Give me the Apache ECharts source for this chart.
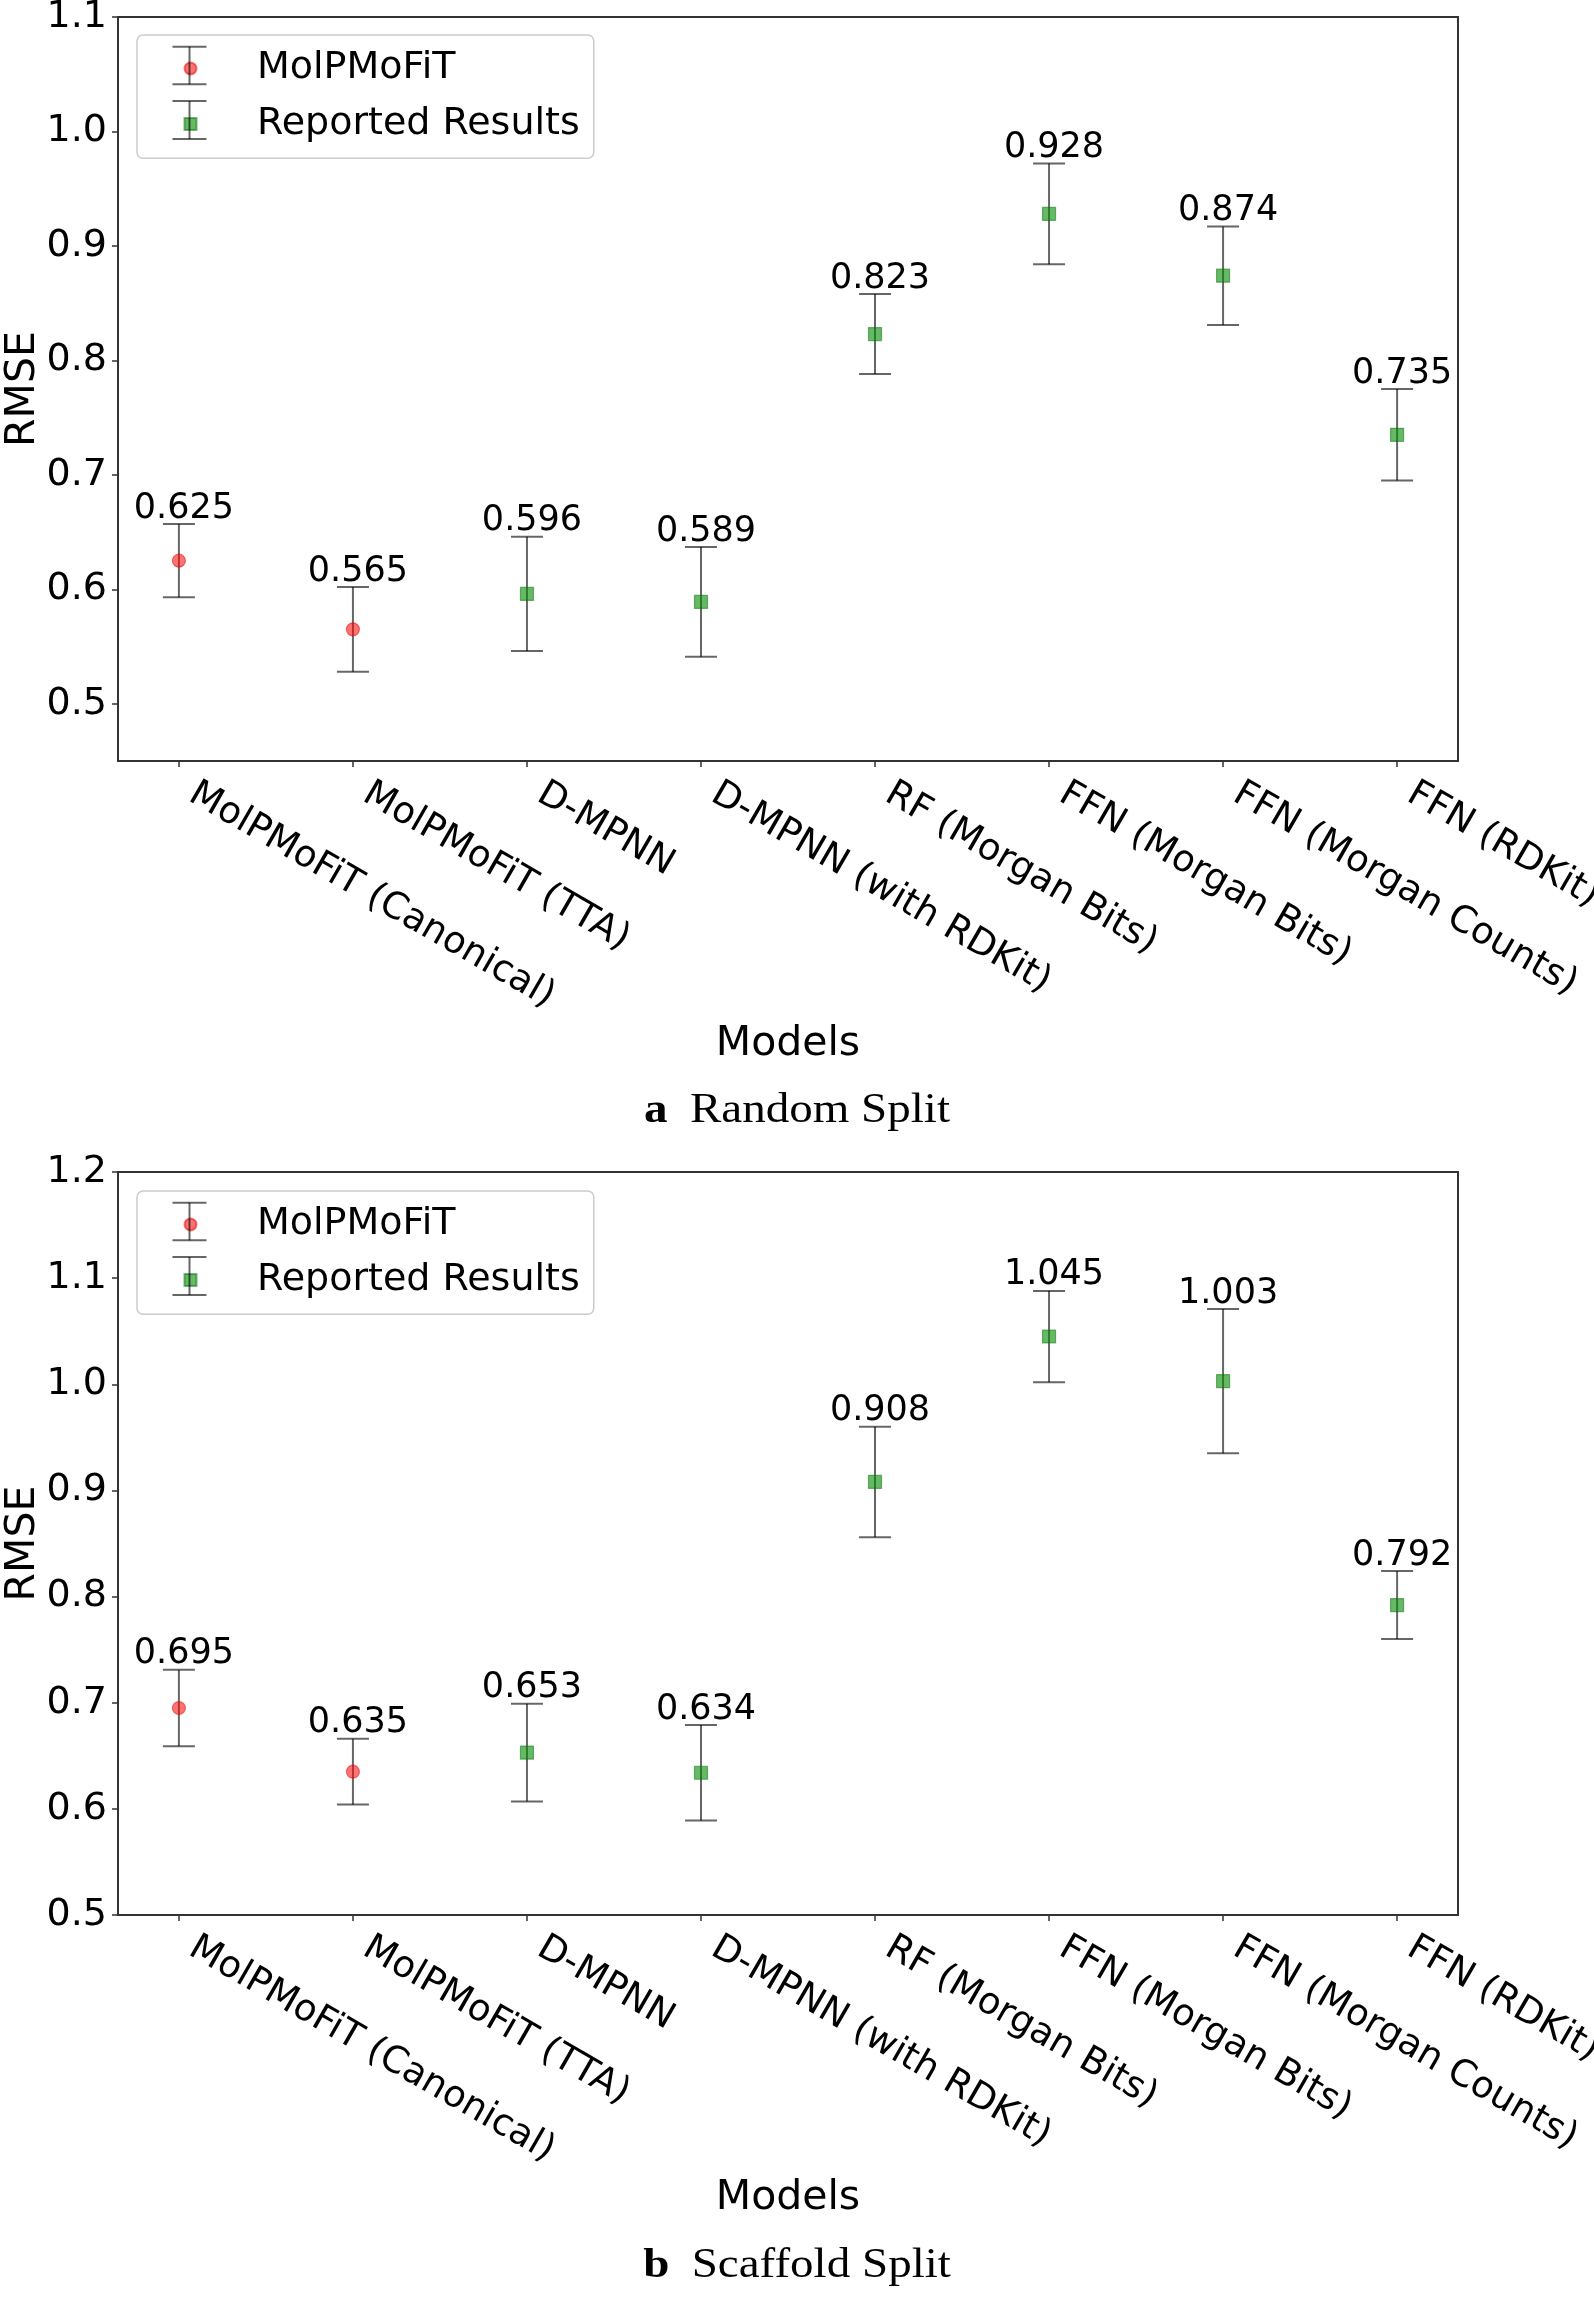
<!DOCTYPE html>
<html>
<head>
<meta charset="utf-8">
<script src="https://cdn.jsdelivr.net/npm/echarts@6/dist/echarts.min.js"></script>
<style>
html,body{margin:0;padding:0;background:#ffffff;}
#chart{width:1594px;height:2300px;}
</style>
</head>
<body>
<div id="chart"></div>
<script>
// ---------------- data ----------------
const categories = [
  'MolPMoFiT (Canonical)', 'MolPMoFiT (TTA)', 'D-MPNN', 'D-MPNN (with RDKit)',
  'RF (Morgan Bits)', 'FFN (Morgan Bits)', 'FFN (Morgan Counts)', 'FFN (RDKit)'
];
const seriesNames = ['MolPMoFiT', 'Reported Results'];
const categoryGroup = ['MolPMoFiT', 'MolPMoFiT', 'Reported Results', 'Reported Results',
  'Reported Results', 'Reported Results', 'Reported Results', 'Reported Results'];

const randomRMSE = [0.625, 0.565, 0.596, 0.589, 0.823, 0.928, 0.874, 0.735];
const randomErr  = [0.032, 0.037, 0.050, 0.048, 0.035, 0.044, 0.043, 0.040];
const scaffoldRMSE = [0.695, 0.635, 0.653, 0.634, 0.908, 1.045, 1.003, 0.792];
const scaffoldErr  = [0.036, 0.031, 0.046, 0.045, 0.052, 0.043, 0.068, 0.032];

const randomYTicks = [0.5, 0.6, 0.7, 0.8, 0.9, 1.0, 1.1];
const scaffoldYTicks = [0.5, 0.6, 0.7, 0.8, 0.9, 1.0, 1.1, 1.2];
const randomYRange = [0.45, 1.1];
const scaffoldYRange = [0.5, 1.2];

const captions = [['a', 'Random Split'], ['b', 'Scaffold Split']];
const xAxisTitle = 'Models';
const yAxisTitle = 'RMSE';

// ---------------- styles ----------------
const FONT = 'DejaVu Sans';
const SERIF = 'Liberation Serif';
const AXIS_COLOR = '#333333';
const ERR_COLOR = 'rgba(0,0,0,0.6)';
const MARKER_STYLE = {
  'MolPMoFiT': { symbol: 'circle', color: 'rgba(255,0,0,0.55)', border: 'rgba(230,0,0,0.5)' },
  'Reported Results': { symbol: 'rect', color: 'rgba(0,140,0,0.6)', border: 'rgba(0,110,0,0.5)' }
};

const panels = [
  { rmse: randomRMSE, err: randomErr, ticks: randomYTicks, range: randomYRange,
    top: 17, height: 744, legendTop: 35, caption: captions[0], captionY: 1111 },
  { rmse: scaffoldRMSE, err: scaffoldErr, ticks: scaffoldYTicks, range: scaffoldYRange,
    top: 1172, height: 743, legendTop: 1191, caption: captions[1], captionY: 2266 }
];

const xIdx = categories.map((_, i) => i);

function errRender(params, api) {
  const x = api.value(0), y = api.value(1), e = api.value(2);
  const pt = api.coord([x, y + e]);
  const pb = api.coord([x, y - e]);
  const hw = 16;
  const st = { stroke: ERR_COLOR, lineWidth: 2 };
  return {
    type: 'group',
    children: [
      { type: 'line', shape: { x1: pt[0], y1: pt[1], x2: pb[0], y2: pb[1] }, style: st },
      { type: 'line', shape: { x1: pt[0] - hw, y1: pt[1], x2: pt[0] + hw, y2: pt[1] }, style: st },
      { type: 'line', shape: { x1: pb[0] - hw, y1: pb[1], x2: pb[0] + hw, y2: pb[1] }, style: st },
      { type: 'text', x: pt[0] + 5, y: pt[1] + 2,
        style: { text: y.toFixed(3), fontSize: 35, fontFamily: FONT, fill: '#000',
                 align: 'center', verticalAlign: 'bottom' } }
    ]
  };
}

const grids = [], xAxes = [], yAxes = [], series = [], legends = [], graphics = [];

panels.forEach((p, k) => {
  grids.push({
    left: 118, top: p.top, width: 1340, height: p.height,
    show: true, borderColor: AXIS_COLOR, borderWidth: 2, backgroundColor: 'transparent',
    containLabel: false, outerBoundsMode: 'none'
  });
  xAxes.push({
    gridIndex: k, type: 'value', min: -0.35, max: 7.35,
    splitLine: { show: false },
    axisLine: { show: true, onZero: false, lineStyle: { color: AXIS_COLOR, width: 2 } },
    axisTick: { show: true, customValues: xIdx, length: 6, lineStyle: { color: AXIS_COLOR, width: 1.5 } },
    axisLabel: {
      customValues: xIdx, formatter: v => categories[Math.round(v)],
      rotate: -30, fontSize: 37, fontFamily: FONT, color: '#000',
      margin: 23, padding: [0, 0, 0, 15], hideOverlap: false
    },
    name: xAxisTitle, nameLocation: 'middle', nameGap: 263, nameMoveOverlap: false,
    nameTextStyle: { fontSize: 41, fontFamily: FONT, color: '#000' }
  });
  yAxes.push({
    gridIndex: k, type: 'value', min: p.range[0], max: p.range[1],
    splitLine: { show: false },
    axisLine: { show: true, onZero: false, lineStyle: { color: AXIS_COLOR, width: 2 } },
    axisTick: { show: true, customValues: p.ticks, length: 6, lineStyle: { color: AXIS_COLOR, width: 1.5 } },
    axisLabel: {
      customValues: p.ticks, formatter: v => v.toFixed(1),
      fontSize: 38, fontFamily: FONT, color: '#000', margin: 11
    },
    name: yAxisTitle, nameLocation: 'middle', nameRotate: 90, nameGap: 74, nameMoveOverlap: false,
    nameTextStyle: { fontSize: 41, fontFamily: FONT, color: '#000' }
  });

  series.push({
    name: 'err' + k, type: 'custom', xAxisIndex: k, yAxisIndex: k, z: 2,
    renderItem: errRender, encode: { x: 0, y: 1 },
    data: categories.map((_, i) => [i, p.rmse[i], p.err[i]])
  });
  seriesNames.forEach(name => {
    const ms = MARKER_STYLE[name];
    series.push({
      name: name, type: 'scatter', xAxisIndex: k, yAxisIndex: k, z: 3,
      symbol: ms.symbol, symbolSize: 13,
      itemStyle: { color: ms.color, borderColor: ms.border, borderWidth: 1.2, opacity: 1 },
      data: categories.map((_, i) => i).filter(i => categoryGroup[i] === name).map(i => [i, p.rmse[i]])
    });
  });

  legends.push({
    left: 137, top: p.legendTop, orient: 'vertical',
    data: seriesNames.map(n => ({ name: n, icon: MARKER_STYLE[n].symbol })),
    itemWidth: 12, itemHeight: 12, itemGap: 17.5,
    padding: [14.5, 14, 15.3, 46.5],
    backgroundColor: 'rgba(255,255,255,0.8)', borderColor: '#cccccc', borderWidth: 1.5, borderRadius: 6,
    selectedMode: false,
    formatter: n => '{t|' + n + '}',
    textStyle: { rich: { t: { fontSize: 38, fontFamily: FONT, color: '#000', padding: [0, 0, 0, 55.5] } } }
  });

  // error-bar glyphs inside the legend (decoration)
  const oy = p.legendTop - 35;
  [[46.7, 84.3], [101, 139]].forEach(([a, b]) => {
    const st = { stroke: ERR_COLOR, lineWidth: 2 };
    graphics.push({ type: 'line', z: 10, shape: { x1: 189.5, y1: a + oy, x2: 189.5, y2: b + oy }, style: st });
    graphics.push({ type: 'line', z: 10, shape: { x1: 172.5, y1: a + oy, x2: 206.5, y2: a + oy }, style: st });
    graphics.push({ type: 'line', z: 10, shape: { x1: 172.5, y1: b + oy, x2: 206.5, y2: b + oy }, style: st });
  });

  graphics.push({
    type: 'text', x: 797, y: p.captionY, scaleX: 1.12, z: 10,
    style: {
      text: '{b|' + p.caption[0] + '}{n|' + p.caption[1] + '}',
      rich: {
        b: { fontFamily: SERIF, fontWeight: 'bold', fontSize: 42, fill: '#000' },
        n: { fontFamily: SERIF, fontSize: 42, fill: '#000', padding: [0, 0, 0, 20] }
      },
      align: 'center', verticalAlign: 'middle'
    }
  });
});

const chart = echarts.init(document.getElementById('chart'), null, { renderer: 'canvas' });
chart.setOption({
  animation: false,
  backgroundColor: '#ffffff',
  grid: grids,
  xAxis: xAxes,
  yAxis: yAxes,
  legend: legends,
  series: series,
  graphic: graphics
});
</script>
</body>
</html>
